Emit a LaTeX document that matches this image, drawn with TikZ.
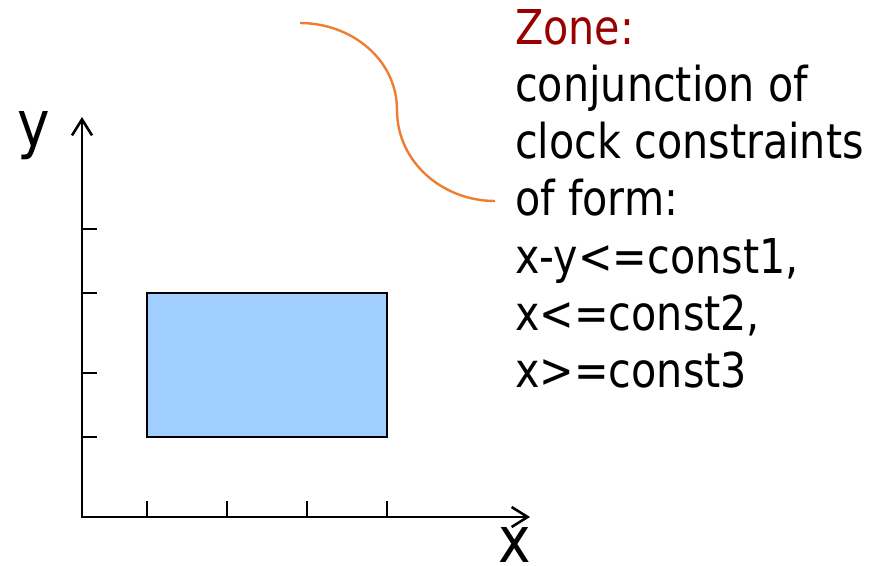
\documentclass[tikz,border=0pt]{standalone}
\usepackage{fontspec}
\setmainfont[FakeStretch=0.86]{DejaVu Sans}
\usetikzlibrary{arrows.meta}
\definecolor{zonefill}{RGB}{160,207,255}
\definecolor{zonered}{RGB}{153,0,0}
\definecolor{callout}{RGB}{237,125,49}

\begin{document}
\begin{tikzpicture}[
   x=0.75pt, y=-0.75pt,
   axis/.style={line width=1.9pt, {Straight Barb[length=12pt,width=15pt]}-{Straight Barb[length=12pt,width=15pt]}},
   tickline/.style={line width=1.9pt},
   axlab/.style={font=\fontsize{48}{48}\selectfont, inner sep=0pt, anchor=base},
   note/.style={font=\fontsize{36}{43}\selectfont, align=left, inner sep=0pt, anchor=base west}]
  \useasboundingbox (0,0) rectangle (879,566);
  % axes
  \coordinate (o) at (82,517);
  \coordinate (xend) at (530,517);
  \coordinate (yend) at (82,117);
  \draw[axis] (yend) |- (xend);
  \foreach \tx in {147,227,307,387}
    \draw[tickline] (\tx,517) -- (\tx,501);
  \foreach \ty in {229,293,373,437}
    \draw[tickline] (82,\ty) -- (97,\ty);
  \node[axlab] (ylab) at (34,147) {y};
  \node[axlab] (xlab) at (515,563) {x};
  % the zone
  \draw[line width=1.9pt, fill=zonefill] (147,293) rectangle (387,437);
  % note and its callout
  \node[note] (zone) at (515,388) {\textcolor{zonered}{Zone:}\\conjunction of\\clock constraints\\of form:\\x-y<=const1,\\x<=const2,\\x>=const3};
  \coordinate (c0) at (300,23);
  \coordinate (c1) at (397,110);
  \coordinate (c2) at (495,201);
  \draw[callout, line width=1.8pt] (c0) to[out=0,in=90] (c1) to[out=-90,in=180] (c2);
\end{tikzpicture}
\end{document}
